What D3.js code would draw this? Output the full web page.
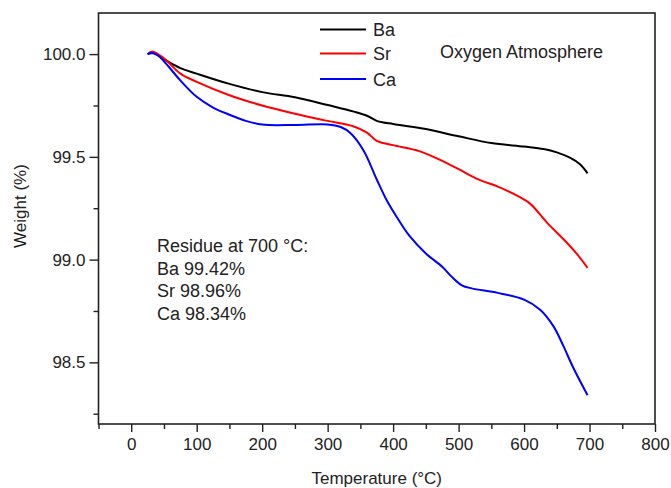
<!DOCTYPE html>
<html>
<head>
<meta charset="utf-8">
<script src="https://cdn.jsdelivr.net/npm/d3@7"></script>
<style>
  body { margin: 0; background: #fff; }
  svg { display: block; font-family: "Liberation Sans", Arial, sans-serif; }
</style>
</head>
<body>
<div id="main"></div>
<script>
const w = 671;
const h = 488;

// temperature (°C) / weight (%)
const baT = [25, 35, 50, 75, 100, 150, 200, 250, 300, 340, 360, 375, 385, 400, 450, 500, 550, 600, 630, 650, 670, 685, 697];
const baW = [100.0, 100.005, 99.975, 99.932, 99.905, 99.855, 99.815, 99.79, 99.752, 99.72, 99.7, 99.675, 99.667, 99.66, 99.635, 99.6, 99.567, 99.55, 99.538, 99.522, 99.496, 99.465, 99.42];

const srT = [25, 32, 50, 75, 100, 150, 200, 250, 300, 340, 360, 375, 400, 440, 470, 500, 530, 560, 590, 610, 635, 660, 680, 697];
const srW = [100.0, 100.013, 99.98, 99.905, 99.865, 99.8, 99.75, 99.71, 99.675, 99.648, 99.618, 99.578, 99.557, 99.528, 99.488, 99.44, 99.39, 99.355, 99.31, 99.27, 99.18, 99.1, 99.03, 98.96];

const caT = [25, 30, 40, 50, 75, 100, 125, 150, 175, 200, 250, 300, 320, 335, 355, 375, 390, 405, 425, 450, 475, 490, 505, 520, 560, 600, 625, 645, 660, 675, 697];
const caW = [100.0, 100.005, 99.995, 99.965, 99.872, 99.792, 99.74, 99.705, 99.675, 99.657, 99.655, 99.658, 99.645, 99.615, 99.53, 99.39, 99.29, 99.21, 99.115, 99.03, 98.965, 98.915, 98.875, 98.86, 98.838, 98.805, 98.755, 98.675, 98.58, 98.475, 98.34];

const seriesNames = ['Ba', 'Sr', 'Ca'];
const seriesColors = ['#000000', '#ff0000', '#0000ff'];
const xTicks = [0, 100, 200, 300, 400, 500, 600, 700, 800];
const yTicks = [98.5, 99.0, 99.5, 100.0];
const residueLines = ['Residue at 700 \u00B0C:', 'Ba 99.42%', 'Sr 98.96%', 'Ca 98.34%'];

const pLeft = 98.5, pRight = 655, pTop = 13, pBottom = 424;

const xScale = d3.scaleLinear().domain([-50, 800]).range([pLeft, pRight]);
const yScale = d3.scaleLinear().domain([98.2, 100.2]).range([pBottom, pTop]);

const svg = d3.select('#main')
              .append('svg')
              .attr('width', w)
              .attr('height', h);

// minor ticks
const xMinor = d3.range(-50, 801, 50).filter(v => v % 100 !== 0);
const yMinor = [98.25, 98.75, 99.25, 99.75];

svg.append('g')
   .attr('transform', 'translate(0,' + pBottom + ')')
   .call(d3.axisBottom(xScale).tickValues(xMinor).tickSize(5).tickFormat(''))
   .call(g => g.select('.domain').remove());

svg.append('g')
   .attr('transform', 'translate(' + pLeft + ',0)')
   .call(d3.axisLeft(yScale).tickValues(yMinor).tickSize(5).tickFormat(''))
   .call(g => g.select('.domain').remove());

const xAxis = svg.append('g')
   .attr('transform', 'translate(0,' + pBottom + ')')
   .call(d3.axisBottom(xScale).tickValues(xTicks).tickSize(8).tickPadding(6).tickFormat(d3.format('d')));
xAxis.select('.domain').remove();

const yAxis = svg.append('g')
   .attr('transform', 'translate(' + pLeft + ',0)')
   .call(d3.axisLeft(yScale).tickValues(yTicks).tickSize(9).tickPadding(4).tickFormat(d3.format('.1f')));
yAxis.select('.domain').remove();

svg.selectAll('.tick line').attr('stroke', '#222').attr('stroke-width', 1.4);
svg.selectAll('.tick text').attr('font-size', '17px').attr('fill', '#222')
   .attr('font-family', '"Liberation Sans", Arial, sans-serif');

// frame
svg.append('rect')
   .attr('x', pLeft)
   .attr('y', pTop)
   .attr('width', pRight - pLeft)
   .attr('height', pBottom - pTop)
   .attr('fill', 'none')
   .attr('stroke', '#222')
   .attr('stroke-width', 1.6);

const line = d3.line()
               .x(d => xScale(d[0]))
               .y(d => yScale(d[1]))
               .curve(d3.curveCatmullRom.alpha(0.5));

const allData = [d3.zip(baT, baW), d3.zip(srT, srW), d3.zip(caT, caW)];

svg.selectAll('path.curve')
   .data(allData)
   .enter()
   .append('path')
   .attr('class', 'curve')
   .attr('d', line)
   .attr('fill', 'none')
   .attr('stroke', (d, i) => seriesColors[i])
   .attr('stroke-width', 2);

// legend
const legend = svg.append('g');
seriesNames.forEach((name, i) => {
  const ly = [29.5, 53.5, 79][i];
  legend.append('line')
        .attr('x1', 320).attr('x2', 366)
        .attr('y1', ly).attr('y2', ly)
        .attr('stroke', seriesColors[i])
        .attr('stroke-width', 2);
  legend.append('text')
        .text(name)
        .attr('x', 373)
        .attr('y', ly + 6.5)
        .attr('font-size', '18px')
        .attr('fill', '#222');
});

svg.append('text')
   .text('Oxygen Atmosphere')
   .attr('x', 440)
   .attr('y', 58)
   .attr('font-size', '18px')
   .attr('fill', '#222');

svg.append('g')
   .selectAll('text')
   .data(residueLines)
   .enter()
   .append('text')
   .text(d => d)
   .attr('x', 157)
   .attr('y', (d, i) => 252 + i * 22.7)
   .attr('font-size', '18px')
   .attr('fill', '#222');

svg.append('text')
   .text('Temperature (\u00B0C)')
   .attr('x', (pLeft + pRight) / 2)
   .attr('y', 484)
   .attr('text-anchor', 'middle')
   .attr('font-size', '17px')
   .attr('fill', '#222');

svg.append('text')
   .text('Weight (%)')
   .attr('transform', 'translate(26,206) rotate(-90)')
   .attr('text-anchor', 'middle')
   .attr('font-size', '17px')
   .attr('fill', '#222');
</script>
</body>
</html>
